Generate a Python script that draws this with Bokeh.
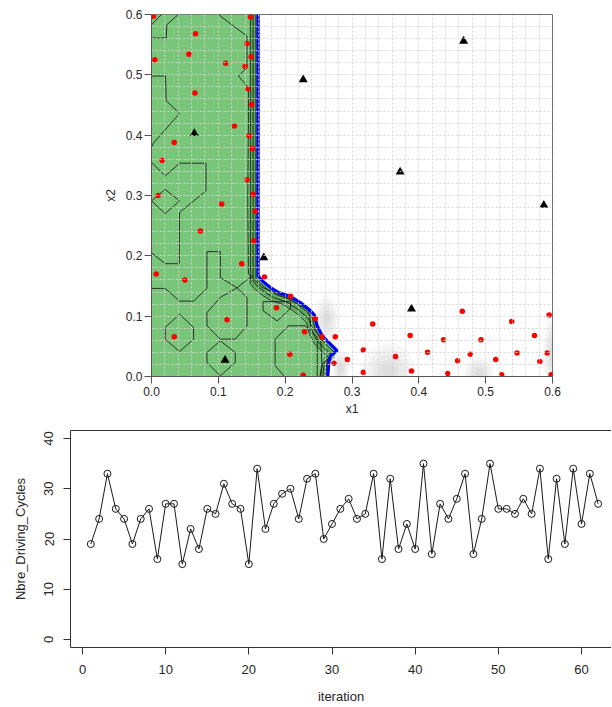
import numpy as np
from bokeh.plotting import figure
from bokeh.models import FixedTicker, NumeralTickFormatter, Range1d, LinearAxis
from bokeh.embed import file_html
from bokeh.resources import INLINE

# ---------------- top panel data ----------------
x1_ticks = [0.0, 0.1, 0.2, 0.3, 0.4, 0.5, 0.6]
x2_ticks = [0.0, 0.1, 0.2, 0.3, 0.4, 0.5, 0.6]

red_x1 = [0.003, 0.066, 0.005, 0.056, 0.111, 0.140, 0.148, 0.143, 0.149, 0.144, 0.150, 0.065,
          0.124, 0.146, 0.151, 0.034, 0.016, 0.143, 0.010, 0.152, 0.105, 0.155, 0.073, 0.153,
          0.135, 0.007, 0.050, 0.169, 0.187, 0.113, 0.034,
          0.208, 0.245, 0.229, 0.255, 0.275, 0.207, 0.273, 0.293, 0.227,
          0.331, 0.465, 0.595, 0.539, 0.387, 0.437, 0.493, 0.573, 0.317, 0.365, 0.413, 0.477,
          0.547, 0.592, 0.458, 0.515, 0.581, 0.317, 0.389, 0.443, 0.524, 0.598]
red_x2 = [0.597, 0.568, 0.525, 0.534, 0.519, 0.514, 0.596, 0.552, 0.530, 0.477, 0.451, 0.470,
          0.415, 0.399, 0.378, 0.388, 0.358, 0.326, 0.300, 0.302, 0.286, 0.274, 0.241, 0.225,
          0.187, 0.170, 0.160, 0.165, 0.114, 0.094, 0.066,
          0.133, 0.096, 0.074, 0.066, 0.066, 0.037, 0.022, 0.028, 0.002,
          0.087, 0.108, 0.102, 0.091, 0.068, 0.061, 0.061, 0.068, 0.044, 0.033, 0.040, 0.037,
          0.039, 0.039, 0.026, 0.028, 0.025, 0.007, 0.009, 0.005, 0.003, 0.003]

tri_x1 = [0.064, 0.110, 0.168, 0.227, 0.372, 0.467, 0.587, 0.389]
tri_x2 = [0.403, 0.027, 0.197, 0.492, 0.339, 0.556, 0.284, 0.112]

# feasible-region boundary (from top edge down to bottom edge)
boundary_x1 = [0.1595, 0.1595, 0.1654, 0.1779, 0.1903, 0.2079, 0.2228, 0.2353, 0.2438,
               0.2478, 0.2553, 0.2678, 0.2778, 0.2678, 0.2653, 0.2638]
boundary_x2 = [0.600, 0.1668, 0.1585, 0.1474, 0.1391, 0.1325, 0.1226, 0.1116, 0.1017,
               0.0840, 0.0674, 0.0537, 0.0426, 0.0343, 0.0232, 0.000]

# contour lines inside the region
cA_x = [0.0, 0.015];                          cA_y = [0.583, 0.6]
cB_x = [0.040, 0.023, 0.022, 0.0];            cB_y = [0.6, 0.583, 0.561, 0.561]
cC_x = [0.0, 0.021, 0.022, 0.042, 0.003, 0.0]
cC_y = [0.498, 0.498, 0.457, 0.436, 0.387, 0.38]
cD_x = [0.0, 0.0205, 0.042, 0.0815, 0.0815, 0.042, 0.0415, 0.0205, 0.0]
cD_y = [0.355, 0.3325, 0.3535, 0.3535, 0.3076, 0.272, 0.187, 0.187, 0.205]
cE_x = [0.0, 0.0205, 0.042, 0.0205, 0.0];     cE_y = [0.291, 0.310, 0.291, 0.270, 0.291]
cF_x = [0.0, 0.0205, 0.042, 0.063, 0.083, 0.083, 0.103, 0.103, 0.128, 0.143, 0.143, 0.1254,
        0.1029, 0.083, 0.083, 0.1029, 0.128, 0.152]
cF_y = [0.146, 0.146, 0.125, 0.125, 0.146, 0.207, 0.207, 0.164, 0.147, 0.131, 0.084, 0.062,
        0.062, 0.084, 0.106, 0.131, 0.147, 0.168]
cH_x = [0.0205, 0.042, 0.063, 0.063, 0.042, 0.0205, 0.0205]
cH_y = [0.0812, 0.1034, 0.0812, 0.0619, 0.0414, 0.0619, 0.0812]
cI_x = [0.083, 0.103, 0.1254, 0.1254, 0.103, 0.083, 0.083]
cI_y = [0.0398, 0.0591, 0.0398, 0.0232, 0.0012, 0.0232, 0.0398]
cJ_x = [0.167, 0.208, 0.208, 0.188, 0.167, 0.167]
cJ_y = [0.124, 0.124, 0.113, 0.092, 0.109, 0.124]
cK_x = [0.199, 0.185, 0.185, 0.205, 0.230, 0.248, 0.248]
cK_y = [0.0, 0.018, 0.062, 0.084, 0.084, 0.065, 0.0]
cL_x = [0.100, 0.143, 0.143, 0.130, 0.145, 0.145, 0.144, 0.145, 0.165, 0.208, 0.235, 0.239,
        0.253, 0.255, 0.253]
cL_y = [0.6, 0.564, 0.512, 0.498, 0.479, 0.424, 0.291, 0.17, 0.148, 0.128, 0.109, 0.083,
        0.065, 0.018, 0.0]

# grey shaded spots (outside region)
gray_x1 = [0.355, 0.490, 0.600, 0.283, 0.262]
gray_x2 = [0.010, 0.005, 0.040, 0.015, 0.095]
gray_rx = [0.040, 0.022, 0.014, 0.014, 0.018]
gray_ry = [0.045, 0.028, 0.065, 0.030, 0.040]

# ---------------- bottom panel data ----------------
iteration = list(range(1, 63))
cycles = [19, 24, 33, 26, 24, 19, 24, 26, 16, 27, 27, 15, 22, 18, 26, 25, 31, 27, 26, 15,
          34, 22, 27, 29, 30, 24, 32, 33, 20, 23, 26, 28, 24, 25, 33, 16, 32, 18, 23, 18,
          35, 17, 27, 24, 28, 33, 17, 24, 35, 26, 26, 25, 28, 25, 34, 16, 32, 19, 34, 23,
          33, 27]
iter_ticks = [0, 10, 20, 30, 40, 50, 60]
cycle_ticks = [0, 10, 20, 30, 40]

FONT = "Liberation Sans"
TXT = "#262626"

# ================= top figure =================
p1 = figure(width=611, height=420, x_range=Range1d(0, 0.6), y_range=Range1d(0, 0.6),
            output_backend="svg", toolbar_location=None,
            min_border_left=151, min_border_top=14, min_border_right=59, min_border_bottom=44)
p1.outline_line_color = "#707070"
p1.outline_line_width = 1

# grey spots (soft)
for gx, gy, rx, ry in zip(gray_x1, gray_x2, gray_rx, gray_ry):
    for k in (1.0, 0.8, 0.6, 0.4, 0.25):
        p1.ellipse(x=gx, y=gy, width=2 * rx * k, height=2 * ry * k,
                   fill_color="#808080", fill_alpha=0.06, line_color=None)

px_x = 0.6 / 401.0
px_y = 0.6 / 362.0

def shifted(d):
    xs = [x - d * px_x for x in boundary_x1]
    ys = [y - d * px_y for y in boundary_x2]
    ys[0] = 0.6
    ys[-1] = 0.0
    return xs, ys

# green feasible region
poly_x = [0.0] + boundary_x1 + [0.0]
poly_y = [0.6] + boundary_x2 + [0.0]
p1.patch(poly_x, poly_y, fill_color="#79c579", line_color=None)

# darker band near boundary
bx, by = shifted(4.5)
p1.line(bx, by, line_color="#3f8f3f", line_width=7, line_alpha=0.5)

# grid on top
grid_vals = [round(i * 0.02, 2) for i in range(31)]
for g in (p1.xgrid, p1.ygrid):
    g.ticker = FixedTicker(ticks=grid_vals)
    g.grid_line_color = "#d4d4d4"
    g.grid_line_dash = "2 2"
    g.grid_line_width = 1
    g.grid_line_alpha = 0.9
    g.level = "glyph"

# contour lines
for cx, cy in [(cA_x, cA_y), (cB_x, cB_y), (cC_x, cC_y), (cD_x, cD_y), (cE_x, cE_y),
               (cF_x, cF_y), (cH_x, cH_y), (cI_x, cI_y), (cJ_x, cJ_y), (cK_x, cK_y),
               (cL_x, cL_y)]:
    p1.line(cx, cy, line_color="#1a1a1a", line_width=1, line_alpha=0.85)

for d in (2.2, 5.0, 7.8):
    sx, sy = shifted(d)
    p1.line(sx, sy, line_color="#1a1a1a", line_width=1, line_alpha=0.85)

# blue boundary
p1.line(boundary_x1, boundary_x2, line_color="#0000ff", line_width=3.2)

# points
p1.scatter(red_x1, red_x2, marker="circle", size=5.5, fill_color="#ff0000", line_color=None)
p1.scatter(tri_x1, tri_x2, marker="triangle", size=9, fill_color="#000000", line_color=None)

ax_b, ax_l = p1.below[0], p1.left[0]
for ax in (ax_b, ax_l):
    ax.axis_line_color = "#555555"
    ax.major_tick_line_color = "#555555"
    ax.major_tick_out = 7
    ax.major_tick_in = 0
    ax.minor_tick_line_color = None
    ax.major_label_text_font = FONT
    ax.major_label_text_font_size = "12px"
    ax.major_label_text_color = TXT
    ax.axis_label_text_font = FONT
    ax.axis_label_text_font_size = "12px"
    ax.axis_label_text_font_style = "normal"
    ax.axis_label_text_color = TXT
    ax.formatter = NumeralTickFormatter(format="0.0")
ax_b.ticker = FixedTicker(ticks=x1_ticks)
ax_l.ticker = FixedTicker(ticks=x2_ticks)
ax_b.axis_label = "x1"
ax_l.axis_label = "x2"
ax_b.major_label_standoff = 3
ax_b.axis_label_standoff = 3
ax_l.major_label_standoff = 2
ax_l.axis_label_standoff = 5

# ================= bottom figure =================
x0 = -1.443
x_end = x0 + 541 / 8.317
p2 = figure(width=611, height=286, x_range=Range1d(x0, x_end), y_range=Range1d(-1.6, 41.6),
            output_backend="svg", toolbar_location=None,
            min_border_left=70, min_border_top=10, min_border_right=0, min_border_bottom=59)
p2.outline_line_color = None
p2.xgrid.visible = False
p2.ygrid.visible = False

p2.line(iteration, cycles, line_color="#1a1a1a", line_width=1)
p2.scatter(iteration, cycles, marker="circle", size=7, fill_color=None,
           line_color="#1a1a1a", line_width=1)

top_axis = LinearAxis(axis_line_color="#333333", major_tick_line_color=None,
                      minor_tick_line_color=None, major_label_text_font_size="0px",
                      major_label_text_color=None, major_label_standoff=0)
p2.add_layout(top_axis, "above")

bx2, by2 = p2.below[0], p2.left[0]
for ax in (bx2, by2):
    ax.axis_line_color = "#333333"
    ax.major_tick_line_color = "#333333"
    ax.major_tick_out = 7
    ax.major_tick_in = 0
    ax.minor_tick_line_color = None
    ax.major_label_text_font = FONT
    ax.major_label_text_font_size = "13px"
    ax.major_label_text_color = TXT
    ax.axis_label_text_font = FONT
    ax.axis_label_text_font_size = "13px"
    ax.axis_label_text_font_style = "normal"
    ax.axis_label_text_color = TXT
bx2.ticker = FixedTicker(ticks=iter_ticks)
by2.ticker = FixedTicker(ticks=cycle_ticks)
bx2.axis_label = "iteration"
by2.axis_label = "Nbre_Driving_Cycles"
by2.major_label_orientation = "vertical"
bx2.major_label_standoff = 10
bx2.axis_label_standoff = 12
by2.major_label_standoff = 10
by2.axis_label_standoff = 14

open("out.html", "w").write(file_html([p1, p2], INLINE))
